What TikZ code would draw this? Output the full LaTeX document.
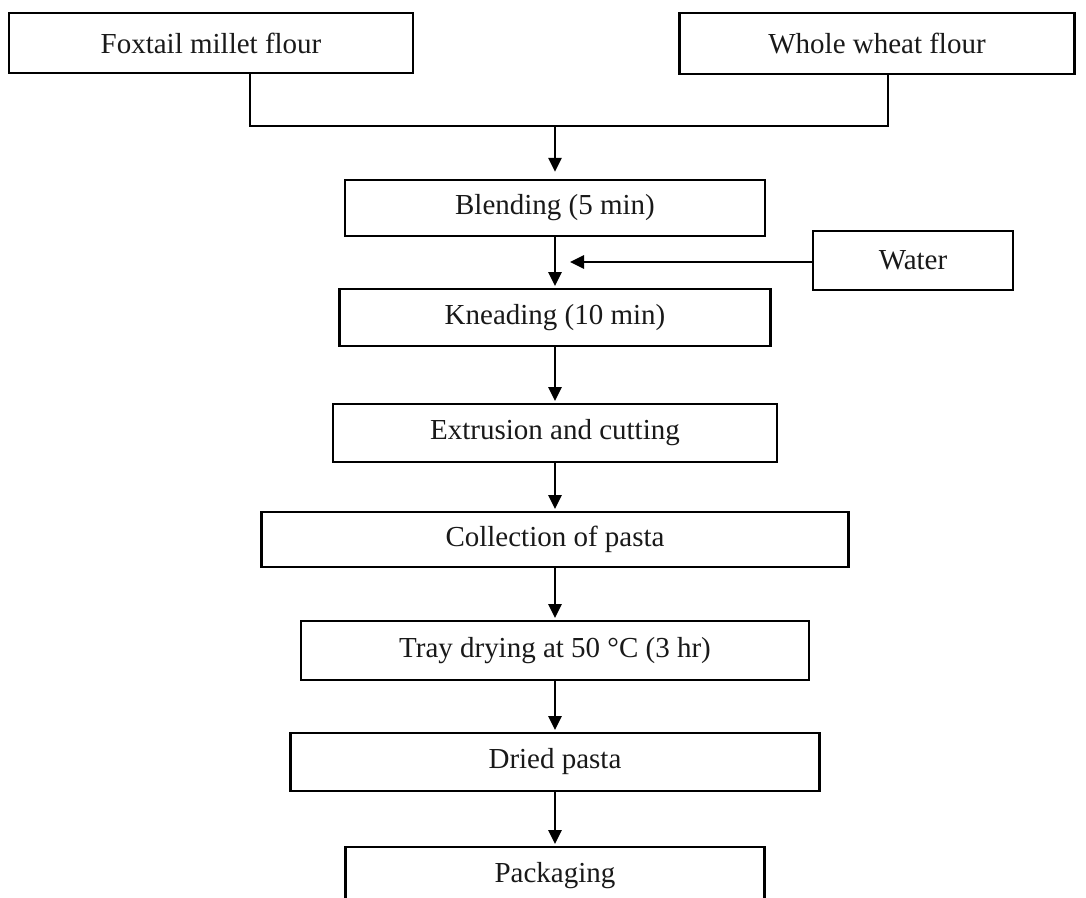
\documentclass[tikz,border=0pt]{standalone}
\usepackage{fontspec}
\setmainfont{Liberation Serif}
\usetikzlibrary{arrows.meta}

\tikzset{
  stepbox/.style={draw=black,line width=1.3pt,fill=white,inner sep=0pt,
    text=black!90,font=\fontsize{16.5}{19}\selectfont},
  boxsize/.style 2 args={minimum width=#1cm,minimum height=#2cm},
  flow/.style={draw=black,line width=1.3pt,
    -{Triangle[length=8pt,width=7.5pt]},shorten >=1pt},
}

\begin{document}
\begin{tikzpicture}[x=0.02cm,y=-0.02cm]
  \path[use as bounding box] (0,0) rectangle (1086,898);

  % Raw materials.
  \node[stepbox,boxsize={8.08}{1.2}] (fox) at (211,43) {Foxtail millet flour};
  \node[stepbox,boxsize={7.9}{1.22}] (wheat) at (877,43.5) {Whole wheat flour};

  % Process chain.
  \node[stepbox,boxsize={8.4}{1.12}] (blend) at (555,208) {Blending (5 min)};
  \node[stepbox,boxsize={4.0}{1.18}] (water) at (913,260.5) {Water};
  \node[stepbox,boxsize={8.62}{1.14}] (knead) at (555,317.5) {Kneading (10 min)};
  \node[stepbox,boxsize={8.88}{1.16}] (extr) at (555,433) {Extrusion and cutting};
  \node[stepbox,boxsize={11.74}{1.1}] (coll) at (555,539.5) {Collection of pasta};
  \node[stepbox,boxsize={10.16}{1.18}] (tray) at (555,650.5) {Tray drying at 50 °C (3 hr)};
  \node[stepbox,boxsize={10.58}{1.16}] (dried) at (555,762) {Dried pasta};
  \node[stepbox,boxsize={8.38}{1.16}] (pack) at (555,876) {Packaging};

  % Joining line of the two flours.
  \coordinate (jl) at (250,126);
  \coordinate (jr) at (888,126);
  \coordinate (jm) at (555,126);
  \draw[line width=1.3pt] (jl |- fox.south) -- (jl) -- (jr) -- (jr |- wheat.south);
  \draw[flow,shorten >=4pt] (jm) -- (blend);

  % Water feed.
  \coordinate (wtip) at (570,262);
  \draw[flow,shorten >=0pt] (water.west |- wtip) -- (wtip);

  \foreach \a/\b in {blend/knead,knead/extr,extr/coll,coll/tray,tray/dried,dried/pack}{
    \draw[flow] (\a) -- (\b);
  }
\end{tikzpicture}
\end{document}
